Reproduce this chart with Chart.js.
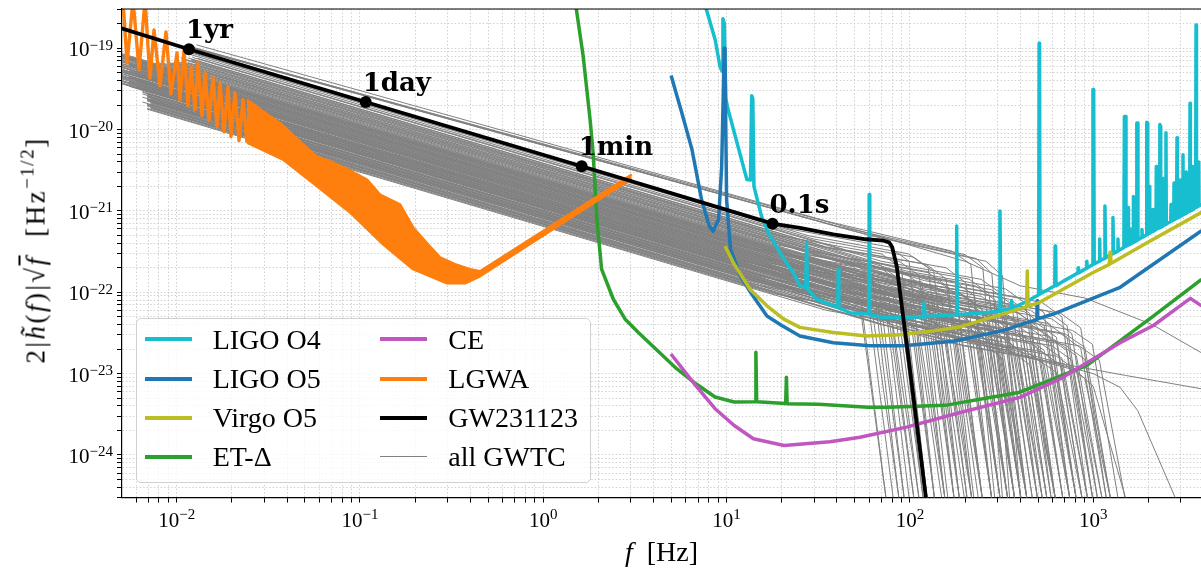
<!DOCTYPE html>
<html><head><meta charset="utf-8">
<script src="https://cdn.jsdelivr.net/npm/chart.js@4.4.1/dist/chart.umd.min.js"></script>
<style>
html,body{margin:0;padding:0;background:#fff;overflow:hidden;}
#wrap{position:relative;width:1201px;height:570px;}
#c{position:absolute;left:0;top:0;}
.serif{font-family:'Liberation Serif','Times New Roman',serif;color:#000;}
#ytitle{position:absolute;left:36.6px;top:250px;transform:translate(-50%,-50%) rotate(-90deg);white-space:nowrap;font-size:27px;line-height:30px;letter-spacing:2.5px;}
#xtitle{position:absolute;left:122px;width:1079px;top:536px;text-align:center;font-size:28px;line-height:31px;}
.sup{font-size:19px;position:relative;top:-11px;letter-spacing:1.5px;}
.ol{text-decoration:overline;}
#legend{position:absolute;left:136px;top:318px;width:455px;height:165px;box-sizing:border-box;border:1px solid #d0d0d0;border-radius:5px;background:rgba(255,255,255,0.8);}
.lg-line{position:absolute;}
.lg-text{position:absolute;font-size:28px;line-height:31px;white-space:nowrap;}
</style></head><body>
<div id="wrap">
<canvas id="c" width="1201" height="570"></canvas>
<div id="legend" class="serif"></div>
<div id="ytitle" class="serif">2|<i>h̃</i>(<i>f</i>)|√<span class="ol"><i>f</i></span>&nbsp;&nbsp;[Hz<span class="sup">−1/2</span>]</div>
<div id="xtitle" class="serif"><i>f</i>&nbsp;&nbsp;[Hz]</div>
</div>
<script>
// ---------- axis ticks ----------
const xTickValues = [1e-2, 1e-1, 1e0, 1e1, 1e2, 1e3];
const xTickExps = ['−2', '−1', '0', '1', '2', '3'];
const yTickValues = [1e-24, 1e-23, 1e-22, 1e-21, 1e-20, 1e-19];
const yTickExps = ['−24', '−23', '−22', '−21', '−20', '−19'];
const tickBase = '10';
const xMin = 0.00503, xMax = 3874, yMin = 3.13e-25, yMax = 3.03e-19;

// ---------- series (frequency [Hz], strain) ----------
const ligoO4 = [[7.6,3.5e-19],[8.67,1.26e-19],[9.2,6.0e-20],[9.45,5.2e-20],[9.55,2.3e-19],[9.72,2.0e-19],[9.9,2.4e-20],[10.2,1.75e-20],[12.9,2.43e-21],[13.5,2.4e-21],[13.7,2.6e-20],[13.9,2.4e-20],[14.1,2.0e-21],[15.5,8.6e-22],[16.9,5.4e-22],[19.5,3.1e-22],[21.5,2.2e-22],[23.1,1.75e-22],[25.1,1.2e-22],[27.0,1.15e-22],[27.3,4.1e-22],[27.6,1.1e-22],[31,8.2e-23],[35,7.4e-23],[38.2,6.8e-23],[40.4,6.5e-23],[40.7,1.92e-22],[41.0,6.4e-23],[47.1,5.6e-23],[58,5.4e-23],[59.6,5.4e-23],[60,1.59e-21],[60.4,5.3e-23],[71.6,4.9e-23],[88.3,4.9e-23],[118,5.0e-23],[119.5,7.5e-23],[121,5.0e-23],[134,5.1e-23],[178.5,5.3e-23],[180,6.5e-22],[181.5,5.3e-23],[250,5.6e-23],[307,5.8e-23],[310,1.0e-21],[313,5.9e-23],[356,6.3e-23],[359,7.9e-23],[362,6.4e-23],[430,7.6e-23],[504,9.3e-23],[507,1.15e-19],[510,4.0e-20],[513,9.5e-23],[600,1.16e-22],[617,1.2e-22],[620,3.7e-22],[624,3.6e-22],[627,1.2e-22],[700,1.4e-22],[825,1.72e-22],[828,2.0e-22],[832,1.73e-22],[918,1.97e-22],[923,2.4e-22],[928,1.99e-22],[990,2.17e-22],[997,3.1e-20],[1006,3.1e-20],[1013,2.23e-22],[1080,2.4e-22],[1085,4.5e-22],[1090,2.45e-22],[1150,2.6e-22],[1159,1.15e-21],[1168,2.65e-22],[1275,2.97e-22],[1282,8.3e-22],[1290,3.0e-22],[1360,3.2e-22],[1365,4.5e-22],[1370,3.23e-22],[1470,3.55e-22],[1480,1.45e-20],[1500,1.45e-20],[1510,3.67e-22],[1550,3.8e-22],[1555,1.1e-21],[1560,3.8e-22],[1589,3.9e-22],[1595,6.0e-22],[1600,3.93e-22],[1650,4.1e-22],[1655,1.5e-21],[1660,4.1e-22],[1720,4.3e-22],[1730,1.2e-20],[1745,1.2e-20],[1755,4.42e-22],[1840,4.7e-22],[1846,5.9e-22],[1852,4.72e-22],[1950,5.05e-22],[1960,1.23e-20],[1975,1.2e-20],[1985,5.15e-22],[2020,5.3e-22],[2030,2.0e-21],[2040,5.4e-22],[2110,5.57e-22],[2118,1.04e-21],[2126,5.6e-22],[2200,5.9e-22],[2210,3.5e-21],[2220,6.0e-22],[2300,6.2e-22],[2310,1.15e-20],[2325,1.1e-20],[2335,6.3e-22],[2400,6.5e-22],[2410,2.5e-21],[2420,6.6e-22],[2480,6.8e-22],[2495,9.1e-21],[2505,6.9e-22],[2650,7.4e-22],[2659,1.2e-21],[2668,7.45e-22],[2750,7.8e-22],[2760,2.2e-21],[2770,7.8e-22],[2850,8.1e-22],[2866,7.9e-21],[2880,8.2e-22],[2960,8.5e-22],[2970,2.4e-21],[2980,8.5e-22],[3080,8.9e-22],[3090,4.9e-21],[3100,8.95e-22],[3200,9.3e-22],[3210,3.0e-21],[3220,9.4e-22],[3360,9.9e-22],[3375,2.1e-20],[3390,1.0e-21],[3480,1.03e-21],[3490,3.5e-21],[3500,1.04e-21],[3620,1.1e-21],[3640,1.93e-19],[3660,1.11e-21],[3760,1.15e-21],[3770,4.0e-21],[3780,1.16e-21],[3900,1.2e-21]];
const ligoO5 = [[4.98,4.6e-20],[5.7,1.6e-20],[6.47,5.7e-21],[7.3,1.38e-21],[8.04,6.5e-22],[8.45,5.65e-22],[9.05,7.9e-22],[9.4,3.5e-21],[9.6,3.0e-20],[9.7,1.0e-19],[9.8,8.0e-20],[10.0,1.38e-21],[10.5,3.4e-22],[11.9,1.58e-22],[13.5,1.0e-22],[16.6,5.1e-23],[20,3.9e-23],[25.1,2.9e-23],[38.2,2.4e-23],[60.5,2.2e-23],[92,2.2e-23],[173,2.5e-23],[324,3.4e-23],[490,4.6e-23],[493,4.65e-23],[495,7.85e-23],[498,4.7e-23],[606,5.4e-23],[1403,1.15e-22],[3900,5.7e-22]];
const virgoO5 = [[9.8,3.7e-22],[10.9,2.3e-22],[13.4,1.09e-22],[16.6,6.8e-23],[20.4,4.7e-23],[25.1,3.7e-23],[38.2,3.2e-23],[58,2.9e-23],[88,3.0e-23],[134,3.35e-23],[187,3.75e-23],[263,4.7e-23],[433,6.6e-23],[437,1.83e-22],[441,6.7e-23],[508,7.5e-23],[1000,1.75e-22],[1225,2.2e-22],[1236,3.1e-22],[1247,2.25e-22],[2000,4.15e-22],[3900,9.6e-22]];
const etDelta = [[1.50,3.5e-19],[1.65,8.0e-20],[1.8,1.32e-20],[1.87,5.2e-21],[1.96,7.9e-22],[2.08,1.92e-22],[2.41,8.2e-23],[2.79,4.7e-23],[3.3,3.2e-23],[5.34,1.15e-23],[6.8,7.5e-24],[8.65,5.15e-24],[11,4.47e-24],[14.3,4.5e-24],[14.45,1.83e-23],[14.6,4.5e-24],[21.0,4.3e-24],[21.2,9.0e-24],[21.4,4.25e-24],[31.7,4.2e-24],[59.3,3.87e-24],[75.5,3.87e-24],[155.6,4.07e-24],[398,5.9e-24],[921,1.25e-23],[2128,5.1e-23],[3900,1.44e-22]];
const ce = [[4.97,1.74e-23],[6.79,7.1e-24],[8.65,3.7e-24],[11,2.3e-24],[14,1.58e-24],[20.6,1.31e-24],[36.6,1.45e-24],[53.5,1.65e-24],[95.9,2.2e-24],[186,3.3e-24],[398,5.1e-24],[659,8.6e-24],[1403,2.4e-23],[2130,3.9e-23],[2980,6.8e-23],[3390,8.4e-23],[3900,6.8e-23]];
const lgwaComb = [[0.00509,3.9e-19],[0.00536,6.6e-20],[0.00578,3.9e-19],[0.00623,5.4e-20],[0.00672,3.9e-19],[0.00715,4.3e-20],[0.00752,1.67e-19],[0.00811,3.45e-20],[0.00874,1.58e-19],[0.00931,2.75e-20],[0.01004,8.75e-20],[0.01042,2.32e-20],[0.01096,9.5e-20],[0.01152,1.96e-20],[0.01197,5.9e-20],[0.01259,1.75e-20],[0.01307,6.6e-20],[0.01374,1.48e-20],[0.01427,5.0e-20],[0.015,1.29e-20],[0.01578,4.33e-20],[0.0166,1.085e-20],[0.01723,3.76e-20],[0.01811,9.4e-21],[0.01905,3.35e-20],[0.01978,8.2e-21],[0.0208,2.83e-20],[0.02188,7.3e-21],[0.023,2.32e-20],[0.02418,6.9e-21]];
const lgwaUpper = [[0.02418,2.32e-20],[0.03032,1.61e-20],[0.03754,1.15e-20],[0.04706,7.1e-21],[0.05829,4.65e-21],[0.0712,3.93e-21],[0.09046,3.05e-21],[0.1092,2.43e-21],[0.1286,1.59e-21],[0.1653,1.2e-21],[0.1946,6.3e-22],[0.235,3.89e-22],[0.2732,2.69e-22],[0.3298,2.21e-22],[0.3982,1.92e-22],[0.4516,1.81e-22],[3.036,2.8e-21]];
const lgwaLower = [[0.02418,6.9e-21],[0.03802,4.28e-21],[0.05829,2.0e-21],[0.08824,9.58e-22],[0.1335,3.89e-22],[0.1946,1.92e-22],[0.2984,1.29e-22],[0.3741,1.29e-22],[0.4516,1.57e-22],[3.036,2.5e-21]];
const gw231123 = [[0.0049,1.78e-19],[0.01167,9.7e-20],[0.1074,2.18e-20],[1.62,3.54e-21],[17.8,6.97e-22],[25.1,6.2e-22],[38.2,5.15e-22],[57.5,4.48e-22],[72,4.3e-22],[77,4.1e-22],[80,3.6e-22],[84.7,2.1e-22],[100,1.13e-23],[122,3.1e-25],[124,1.5e-25]];
const markerF = [0.01167, 0.1074, 1.62, 17.8];
const markerH = [9.7e-20, 2.18e-20, 3.54e-21, 6.97e-22];
const markerLabels = ['1yr', '1day', '1min', '0.1s'];
const gwtcCurves = [
 [[0.0118,1.05e-19],[40,6.5e-22],[200,2.9e-22],[250,2.0e-22],[320,3e-25]],
 [[0.0122,1.0e-19],[50,5.6e-22],[230,2.6e-22],[280,1.7e-22],[350,3e-25]],
 [[0.0128,1.1e-19],[35,7.5e-22],[170,3.2e-22],[215,2.2e-22],[290,3e-25]],
 [[0.013,9.6e-20],[60,5.0e-22],[260,2.4e-22],[320,1.6e-22],[400,3e-25]],
 [[0.0125,1.0e-19],[60,5.3e-22],[200,2.4e-22],[400,1.2e-22],[900,8.5e-23],[2100,4e-23],[3900,1.8e-23]],
 [[0.0069,2.76e-20],[300,2.2e-23],[700,1.3e-23],[1500,9.5e-24],[3900,6.5e-24]],
 [[0.0069,2.5e-20],[250,2.3e-23],[1000,1.0e-23],[1400,6.8e-24],[1750,3.5e-24],[2800,3e-25]],
 [[0.0069,2.3e-20],[220,2.4e-23],[800,1.1e-23],[1000,7e-24],[1500,3e-25]],
 [[0.0125,8.7e-20],[22,6.0e-22],[77,3.6e-22],[99,2.4e-22],[136,3e-25]],
 [[0.012,8.3e-20],[30,4.5e-22],[105,2.7e-22],[135,1.8e-22],[186,3e-25]],
 [[0.013,7.5e-20],[45,3.3e-22],[157.5,2.0e-22],[202.5,1.3e-22],[279,3e-25]],
 [[0.0115,7.6e-20],[35,3.6e-22],[122.5,2.2e-22],[157.5,1.46e-22],[217,3e-25]],
 [[0.012,7.1e-20],[60,2.4e-22],[210,1.45e-22],[270,9.7e-23],[372,3e-25]],
 [[0.0125,6.4e-20],[25,4.1e-22],[87.5,2.4e-22],[112.5,1.6e-22],[155,3e-25]],
 [[0.011,6.7e-20],[80,1.8e-22],[280,1.07e-22],[360,7.1e-23],[496,3e-25]],
 [[0.01,6.6e-20],[50,2.3e-22],[175,1.36e-22],[225,9.1e-23],[310,3e-25]],
 [[0.0095,6.6e-20],[100,1.37e-22],[350,8.2e-23],[450,5.5e-23],[620,3e-25]],
 [[0.009,6.4e-20],[40,2.4e-22],[140,1.4e-22],[180,9.4e-23],[248,3e-25]],
 [[0.005,8.6e-20],[70,1.48e-22],[245,8.9e-23],[315,5.9e-23],[434,3e-25]],
 [[0.005,8.2e-20],[20,3.3e-22],[70,1.95e-22],[90,1.3e-22],[124,3e-25]],
 [[0.0055,7.5e-20],[120,9.6e-23],[420,5.8e-23],[540,3.9e-23],[744,3e-25]],
 [[0.005,7.7e-20],[40,1.9e-22],[140,1.15e-22],[180,7.7e-23],[248,3e-25]],
 [[0.006,6.6e-20],[55,1.5e-22],[192.5,9.1e-23],[247.5,6.1e-23],[341,3e-25]],
 [[0.005,7.1e-20],[15,3.4e-22],[52.5,2.06e-22],[67.5,1.37e-22],[93,3e-25]],
 [[0.005,7.0e-20],[160,6.9e-23],[560,4.15e-23],[720,2.8e-23],[992,3e-25]],
 [[0.0055,6.25e-20],[30,2.0e-22],[105,1.21e-22],[135,8.1e-23],[186,3e-25]],
 [[0.005,6.5e-20],[90,9.5e-23],[315,5.7e-23],[405,3.8e-23],[558,3e-25]],
 [[0.006,5.5e-20],[45,1.44e-22],[157.5,8.6e-23],[202.5,5.75e-23],[279,3e-25]],
 [[0.005,6.1e-20],[200,5.2e-23],[700,3.1e-23],[900,2.1e-23],[1240,3e-25]],
 [[0.005,5.8e-20],[25,2.0e-22],[87.5,1.19e-22],[112.5,7.9e-23],[155,3e-25]],
 [[0.0055,5.3e-20],[140,6.2e-23],[490,3.7e-23],[630,2.5e-23],[868,3e-25]],
 [[0.005,5.4e-20],[60,1.03e-22],[210,6.2e-23],[270,4.1e-23],[372,3e-25]],
 [[0.006,4.7e-20],[18,2.25e-22],[63,1.35e-22],[81,9.0e-23],[112,3e-25]],
 [[0.005,5.1e-20],[110,6.4e-23],[385,3.9e-23],[495,2.6e-23],[682,3e-25]],
 [[0.005,4.9e-20],[35,1.35e-22],[122.5,8.1e-23],[157.5,5.4e-23],[217,3e-25]],
 [[0.0055,4.4e-20],[80,7.4e-23],[280,4.5e-23],[360,3.0e-23],[496,3e-25]],
 [[0.005,4.6e-20],[50,9.9e-23],[175,6.0e-23],[225,4.0e-23],[310,3e-25]],
 [[0.006,4.0e-20],[180,4.1e-23],[630,2.5e-23],[810,1.65e-23],[1116,3e-25]],
 [[0.005,4.3e-20],[22,1.6e-22],[77,9.6e-23],[99,6.4e-23],[136,3e-25]],
 [[0.005,4.2e-20],[100,5.7e-23],[350,3.4e-23],[450,2.3e-23],[620,3e-25]],
 [[0.0055,3.9e-20],[40,1.03e-22],[140,6.2e-23],[180,4.1e-23],[248,3e-25]],
 [[0.005,3.9e-20],[70,6.8e-23],[245,4.1e-23],[315,2.7e-23],[434,3e-25]],
 [[0.006,3.4e-20],[28,1.22e-22],[98,7.3e-23],[126,4.9e-23],[174,3e-25]],
 [[0.005,3.75e-20],[150,3.9e-23],[525,2.3e-23],[675,1.55e-23],[930,3e-25]],
 [[0.005,3.7e-20],[12,2.05e-22],[42,1.23e-22],[54,8.2e-23],[74,3e-25]],
 [[0.0055,3.4e-20],[60,6.8e-23],[210,4.1e-23],[270,2.7e-23],[372,3e-25]],
 [[0.0069,2.76e-20],[45,7.9e-23],[157.5,4.7e-23],[202.5,3.2e-23],[279,3e-25]],
 [[0.0065,2.74e-20],[15,1.57e-22],[52.5,9.4e-23],[67.5,6.3e-23],[93,3e-25]],
 [[0.0069,2.6e-20],[90,4.65e-23],[315,2.8e-23],[405,1.86e-23],[558,3e-25]],
 [[0.0072,2.4e-20],[30,9.2e-23],[105,5.5e-23],[135,3.7e-23],[186,3e-25]],
 [[0.0065,2.5e-20],[180,2.7e-23],[630,1.64e-23],[810,1.1e-23],[1116,3e-25]],
 [[0.0069,2.3e-20],[20,1.13e-22],[70,6.8e-23],[90,4.5e-23],[124,3e-25]],
 [[0.0069,2.24e-20],[70,4.8e-23],[245,2.9e-23],[315,1.9e-23],[434,3e-25]],
 [[0.0072,2.13e-20],[120,3.3e-23],[420,1.96e-23],[540,1.3e-23],[744,3e-25]],
 [[0.0065,2.18e-20],[12,1.45e-22],[42,8.7e-23],[54,5.8e-23],[74,3e-25]],
 [[0.0069,2.05e-20],[55,5.1e-23],[192.5,3.1e-23],[247.5,2.05e-23],[341,3e-25]],
 [[0.0069,1.95e-20],[25,8.3e-23],[87.5,5.0e-23],[112.5,3.3e-23],[155,3e-25]],
 [[0.0072,1.86e-20],[140,2.56e-23],[490,1.54e-23],[630,1.03e-23],[868,3e-25]],
 [[0.0069,1.82e-20],[18,9.6e-23],[63,5.8e-23],[81,3.85e-23],[112,3e-25]],
 [[0.0069,1.78e-20],[35,6.0e-23],[122.5,3.6e-23],[157.5,2.4e-23],[217,3e-25]],
 [[0.005,6.8e-20],[14,3.4e-22],[49,2.06e-22],[63,1.37e-22],[87,3e-25]],
 [[0.005,5.5e-20],[16,2.55e-22],[56,1.53e-22],[72,1.02e-22],[99,3e-25]],
 [[0.006,3.9e-20],[13,2.33e-22],[45.5,1.4e-22],[58.5,9.3e-23],[81,3e-25]],
 [[0.0069,2.35e-20],[17,1.29e-22],[59.5,7.7e-23],[76.5,5.2e-23],[105,3e-25]],
 [[0.0085,6.5e-20],[19,3.8e-22],[66.5,2.27e-22],[85.5,1.5e-22],[118,3e-25]],
 [[0.005,5.9e-20],[65,1.07e-22],[227.5,6.4e-23],[292.5,4.3e-23],[403,3e-25]],
 [[0.005,4.8e-20],[38,1.25e-22],[133,7.5e-23],[171,5.0e-23],[236,3e-25]],
 [[0.0055,3.8e-20],[85,6.1e-23],[297.5,3.65e-23],[382.5,2.4e-23],[527,3e-25]],
 [[0.0069,2.7e-20],[32,9.7e-23],[112,5.8e-23],[144,3.9e-23],[198,3e-25]],
 [[0.005,7.8e-20],[33,2.2e-22],[115.5,1.34e-22],[148.5,8.9e-23],[205,3e-25]],
 [[0.0118,8.8e-20],[28,4.95e-22],[98,2.97e-22],[126,1.98e-22],[174,3e-25]],
 [[0.0122,7.7e-20],[70,2.4e-22],[245,1.44e-22],[315,9.6e-23],[434,3e-25]],
 [[0.0105,7.6e-20],[20,4.9e-22],[70,2.96e-22],[90,1.97e-22],[124,3e-25]],
 [[0.0115,6.65e-20],[120,1.39e-22],[420,8.4e-23],[540,5.6e-23],[744,3e-25]],
 [[0.0098,6.9e-20],[36,2.9e-22],[126,1.74e-22],[162,1.16e-22],[223,3e-25]],
 [[0.0088,6.8e-20],[160,9.8e-23],[560,5.9e-23],[720,3.9e-23],[992,3e-25]],
 [[0.008,6.6e-20],[26,3.0e-22],[91,1.8e-22],[117,1.2e-22],[161,3e-25]],
 [[0.005,8.4e-20],[50,1.81e-22],[175,1.08e-22],[225,7.2e-23],[310,3e-25]],
 [[0.005,8.0e-20],[100,1.09e-22],[350,6.5e-23],[450,4.4e-23],[620,3e-25]],
 [[0.005,7.3e-20],[22,2.72e-22],[77,1.63e-22],[99,1.09e-22],[136,3e-25]],
 [[0.0055,6.4e-20],[75,1.12e-22],[262.5,6.7e-23],[337.5,4.5e-23],[465,3e-25]],
 [[0.005,6.4e-20],[28,2.0e-22],[98,1.21e-22],[126,8.1e-23],[174,3e-25]],
 [[0.006,5.26e-20],[130,6.8e-23],[455,4.07e-23],[585,2.7e-23],[806,3e-25]],
 [[0.005,5.5e-20],[45,1.28e-22],[157.5,7.7e-23],[202.5,5.1e-23],[279,3e-25]],
 [[0.005,5.2e-20],[17,2.29e-22],[59.5,1.37e-22],[76.5,9.2e-23],[105,3e-25]],
 [[0.0055,4.5e-20],[240,3.66e-23],[840,2.19e-23],[1080,1.46e-23],[1488,3e-25]],
 [[0.005,4.5e-20],[33,1.28e-22],[115.5,7.7e-23],[148.5,5.1e-23],[205,3e-25]],
 [[0.0055,3.94e-20],[19,1.73e-22],[66.5,1.04e-22],[85.5,6.9e-23],[118,3e-25]],
 [[0.005,4.0e-20],[120,4.8e-23],[420,2.9e-23],[540,1.93e-23],[744,3e-25]],
 [[0.006,3.3e-20],[50,8.1e-23],[175,4.84e-23],[225,3.2e-23],[310,3e-25]],
 [[0.0065,2.94e-20],[65,6.3e-23],[227.5,3.8e-23],[292.5,2.5e-23],[403,3e-25]],
 [[0.0069,2.52e-20],[24,1.1e-22],[84,6.6e-23],[108,4.4e-23],[149,3e-25]],
 [[0.0069,2.35e-20],[100,3.95e-23],[350,2.37e-23],[450,1.58e-23],[620,3e-25]],
 [[0.0072,2.08e-20],[40,6.6e-23],[140,3.98e-23],[180,2.65e-23],[248,3e-25]],
 [[0.0069,2.0e-20],[14,1.25e-22],[49,7.5e-23],[63,5.0e-23],[87,3e-25]],
 [[0.0072,1.82e-20],[70,3.98e-23],[245,2.39e-23],[315,1.59e-23],[434,3e-25]],
 [[0.012,7.3e-20],[95,1.83e-22],[332.5,1.1e-22],[427.5,7.3e-23],[589,3e-25]],
 [[0.011,7.2e-20],[150,1.26e-22],[525,7.5e-23],[675,5.0e-23],[930,3e-25]],
 [[0.0105,6.7e-20],[65,2.0e-22],[227.5,1.2e-22],[292.5,8.0e-23],[403,3e-25]],
 [[0.01,6.5e-20],[190,9.1e-23],[665,5.5e-23],[855,3.65e-23],[1178,3e-25]],
 [[0.009,6.5e-20],[85,1.46e-22],[297.5,8.75e-23],[382.5,5.8e-23],[527,3e-25]],
 [[0.008,6.4e-20],[130,1.0e-22],[455,6.0e-23],[585,4.0e-23],[806,3e-25]],
 [[0.005,8.2e-20],[170,7.8e-23],[595,4.7e-23],[765,3.1e-23],[1054,3e-25]],
 [[0.0055,7.3e-20],[55,1.58e-22],[192.5,9.5e-23],[247.5,6.3e-23],[341,3e-25]],
 [[0.005,7.5e-20],[110,9.5e-23],[385,5.7e-23],[495,3.8e-23],[682,3e-25]],
 [[0.006,6.3e-20],[220,5.7e-23],[770,3.4e-23],[990,2.3e-23],[1364,3e-25]],
 [[0.005,6.8e-20],[90,9.9e-23],[315,6.0e-23],[405,4.0e-23],[558,3e-25]],
 [[0.0055,6.1e-20],[140,7.1e-23],[490,4.2e-23],[630,2.8e-23],[868,3e-25]],
 [[0.005,6.2e-20],[60,1.19e-22],[210,7.1e-23],[270,4.7e-23],[372,3e-25]],
 [[0.005,5.8e-20],[190,5.1e-23],[665,3.1e-23],[855,2.06e-23],[1178,3e-25]],
 [[0.006,4.9e-20],[75,9.1e-23],[262.5,5.5e-23],[337.5,3.65e-23],[465,3e-25]],
 [[0.005,5.3e-20],[130,6.0e-23],[455,3.6e-23],[585,2.4e-23],[806,3e-25]],
 [[0.005,5.1e-20],[95,7.1e-23],[332.5,4.3e-23],[427.5,2.8e-23],[589,3e-25]],
 [[0.0055,4.5e-20],[160,4.8e-23],[560,2.9e-23],[720,1.9e-23],[992,3e-25]],
 [[0.005,4.6e-20],[65,8.3e-23],[227.5,5.0e-23],[292.5,3.3e-23],[403,3e-25]],
 [[0.005,4.4e-20],[200,3.8e-23],[700,2.26e-23],[900,1.5e-23],[1240,3e-25]],
 [[0.006,3.7e-20],[110,5.4e-23],[385,3.2e-23],[495,2.1e-23],[682,3e-25]],
 [[0.005,4.0e-20],[55,8.1e-23],[192.5,4.9e-23],[247.5,3.25e-23],[341,3e-25]],
 [[0.0055,3.6e-20],[170,3.66e-23],[595,2.2e-23],[765,1.46e-23],[1054,3e-25]],
 [[0.005,3.66e-20],[80,5.8e-23],[280,3.5e-23],[360,2.3e-23],[496,3e-25]],
 [[0.0065,2.87e-20],[130,3.9e-23],[455,2.34e-23],[585,1.56e-23],[806,3e-25]],
 [[0.0069,2.58e-20],[60,6.1e-23],[210,3.65e-23],[270,2.43e-23],[372,3e-25]],
 [[0.0069,2.4e-20],[150,3.1e-23],[525,1.85e-23],[675,1.23e-23],[930,3e-25]],
 [[0.0072,2.18e-20],[85,4.2e-23],[297.5,2.5e-23],[382.5,1.68e-23],[527,3e-25]],
 [[0.0069,2.05e-20],[200,2.17e-23],[700,1.3e-23],[900,8.7e-24],[1240,3e-25]],
 [[0.0072,1.86e-20],[100,3.2e-23],[350,1.93e-23],[450,1.29e-23],[620,3e-25]]
];

// ---------- legend ----------
const legendLabels = ['LIGO O4', 'LIGO O5', 'Virgo O5', 'ET-Δ', 'CE', 'LGWA', 'GW231123', 'all GWTC'];
const legendColors = ['#17becf', '#1f77b4', '#bcbd22', '#2ca02c', '#c056c0', '#ff7f0e', '#000000', '#808080'];
const legendWidths = [4, 4, 4, 4, 4, 4, 4, 1.5];

(function buildLegend(){
  const box = document.getElementById('legend');
  const colLine = [8, 242.7], colText = [75.7, 311.3], rowY = [20.3, 59.5, 98.6, 137.7];
  legendLabels.forEach((lab, i) => {
    const col = Math.floor(i / 4), row = i % 4;
    const ln = document.createElement('div');
    ln.className = 'lg-line';
    ln.style.left = colLine[col] + 'px';
    ln.style.width = '47px';
    ln.style.height = legendWidths[i] + 'px';
    ln.style.top = (rowY[row] - legendWidths[i] / 2) + 'px';
    ln.style.background = legendColors[i];
    box.appendChild(ln);
    const tx = document.createElement('div');
    tx.className = 'lg-text';
    tx.style.left = colText[col] + 'px';
    tx.style.top = (rowY[row] - 15.7) + 'px';
    tx.textContent = lab;
    box.appendChild(tx);
  });
})();

// ---------- chart ----------
const pts = arr => arr.map(p => ({x: p[0], y: p[1]}));
const base = {pointRadius: 0, pointHoverRadius: 0, fill: false, tension: 0, clip: 0, borderJoinStyle: 'round', borderCapStyle: 'butt'};
const datasets = [];
datasets.push({...base, label: 'markers', data: markerF.map((f, i) => ({x: f, y: markerH[i]})), showLine: false, pointRadius: 6, pointBackgroundColor: '#000', pointBorderColor: '#000', pointBorderWidth: 0});
datasets.push({...base, label: 'GW231123', data: pts(gw231123), borderColor: legendColors[6], borderWidth: 3.8});
datasets.push({...base, label: 'LGWA', data: pts(lgwaComb), borderColor: legendColors[5], borderWidth: 3.4});
datasets.push({...base, label: 'LGWA upper', data: pts(lgwaUpper), borderColor: legendColors[5], borderWidth: 2.5, fill: '+1', backgroundColor: legendColors[5]});
datasets.push({...base, label: 'LGWA lower', data: pts(lgwaLower), borderColor: legendColors[5], borderWidth: 2.5});
datasets.push({...base, label: 'CE', data: pts(ce), borderColor: legendColors[4], borderWidth: 3.5});
datasets.push({...base, label: 'ET-Δ', data: pts(etDelta), borderColor: legendColors[3], borderWidth: 3.5});
datasets.push({...base, label: 'Virgo O5', data: pts(virgoO5), borderColor: legendColors[2], borderWidth: 3.5});
datasets.push({...base, label: 'LIGO O5', data: pts(ligoO5), borderColor: legendColors[1], borderWidth: 3.5});
datasets.push({...base, label: 'LIGO O4', data: pts(ligoO4), borderColor: legendColors[0], borderWidth: 3.5});
gwtcCurves.forEach((c, i) => datasets.push({...base, label: 'GWTC ' + i, data: pts(c), borderColor: legendColors[7], borderWidth: 1}));

function isGridValue(v) {
  const e = Math.floor(Math.log10(v) + 1e-9);
  const m = v / Math.pow(10, e);
  const mr = Math.round(m);
  return Math.abs(m - mr) < 1e-6 && mr >= 1 && mr <= 9;
}
const gridColor = ctx => (ctx.tick && isGridValue(ctx.tick.value)) ? '#cccccc' : 'rgba(0,0,0,0)';
const tickColor = ctx => (ctx.tick && isGridValue(ctx.tick.value)) ? '#000000' : 'rgba(0,0,0,0)';
const FONT = "'Liberation Serif', 'Times New Roman', serif";

const framePlugin = {
  id: 'frame',
  afterDatasetsDraw(chart) {
    const {ctx, scales: {x, y}} = chart;
    ctx.save();
    ctx.fillStyle = '#000';
    ctx.font = "bold 26px 'DejaVu Serif'";
    ctx.textAlign = 'left';
    ctx.textBaseline = 'alphabetic';
    for (let i = 0; i < markerLabels.length; i++) {
      const px = x.getPixelForValue(markerF[i]), py = y.getPixelForValue(markerH[i]);
      ctx.fillText(markerLabels[i], px - 3, py - 11);
    }
    ctx.restore();
  },
  afterDraw(chart) {
    const {ctx, chartArea: a, scales: {x, y}} = chart;
    ctx.save();
    ctx.strokeStyle = '#000';
    ctx.lineWidth = 1.2;
    ctx.beginPath();
    ctx.moveTo(a.left, a.top);
    ctx.lineTo(a.right, a.top);
    ctx.stroke();
    ctx.fillStyle = '#000';
    ctx.textBaseline = 'alphabetic';
    ctx.textAlign = 'left';
    const bigF = '21px ' + FONT, smallF = '15px ' + FONT;
    for (let i = 0; i < xTickValues.length; i++) {
      const px = x.getPixelForValue(xTickValues[i]);
      ctx.font = bigF; const wb = ctx.measureText(tickBase).width;
      ctx.font = smallF; const we = ctx.measureText(xTickExps[i]).width;
      const sx = px - (wb + we) / 2;
      ctx.font = bigF; ctx.fillText(tickBase, sx, a.bottom + 29.5);
      ctx.font = smallF; ctx.fillText(xTickExps[i], sx + wb, a.bottom + 21);
    }
    for (let i = 0; i < yTickValues.length; i++) {
      const py = y.getPixelForValue(yTickValues[i]);
      ctx.font = smallF; const we = ctx.measureText(yTickExps[i]).width;
      ctx.font = bigF; const wb = ctx.measureText(tickBase).width;
      const right = a.left - 9;
      ctx.font = smallF; ctx.fillText(yTickExps[i], right - we, py + 1.5);
      ctx.font = bigF; ctx.fillText(tickBase, right - we - wb, py + 8);
    }
    ctx.restore();
  }
};

new Chart(document.getElementById('c'), {
  type: 'line',
  data: {datasets},
  options: {
    responsive: false,
    animation: false,
    events: [],
    layout: {autoPadding: false, padding: {top: 9, left: 0, right: 0, bottom: 0}},
    plugins: {legend: {display: false}, tooltip: {enabled: false}},
    scales: {
      x: {
        type: 'logarithmic', position: 'bottom', min: xMin, max: xMax,
        grid: {color: gridColor, lineWidth: 0.9, drawTicks: true, tickLength: 5, tickColor: tickColor, tickWidth: 1},
        border: {display: true, color: '#000', width: 1.2, dash: [1.5, 2]},
        ticks: {display: false, autoSkip: false, maxRotation: 0, minRotation: 0},
        afterFit: s => { s.height = 72.5; }
      },
      y: {
        type: 'logarithmic', position: 'left', min: yMin, max: yMax,
        grid: {color: gridColor, lineWidth: 0.9, drawTicks: true, tickLength: 5, tickColor: tickColor, tickWidth: 1},
        border: {display: true, color: '#000', width: 1.2, dash: [1.5, 2]},
        ticks: {display: false, autoSkip: false},
        afterFit: s => { s.width = 122; }
      }
    }
  },
  plugins: [framePlugin]
});
</script>
</body></html>
